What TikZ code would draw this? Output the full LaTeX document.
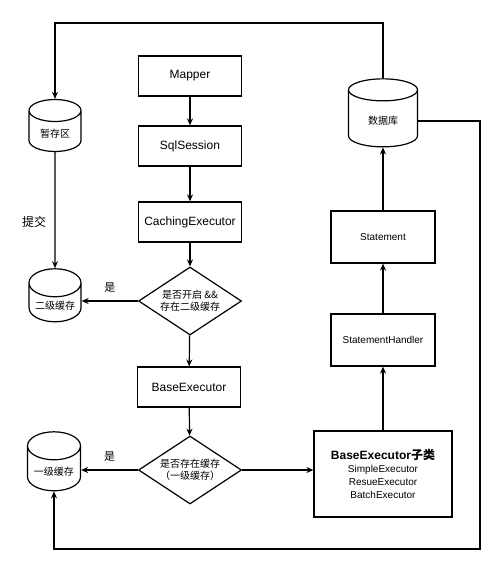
\documentclass[tikz,border=0pt]{standalone}
\usepackage{fontspec}
\setmainfont{Liberation Sans}
\newfontfamily\cjk{Noto Sans CJK SC}
\usetikzlibrary{shapes.geometric,arrows.meta}
\begin{document}
\begin{tikzpicture}[x=1pt,y=-1pt,
    box/.style={draw,line width=1.2pt,minimum width=103pt,minimum height=40pt,font=\fontsize{12}{14}\selectfont},
    smallbox/.style={box,minimum width=104pt,minimum height=52pt,font=\fontsize{10}{12}\selectfont},
    db/.style={draw,line width=1.2pt,cylinder,shape border rotate=90,aspect=0.6,font=\cjk\fontsize{10}{12}\selectfont},
    decide/.style={draw,line width=1.2pt,diamond,aspect=1.5,inner sep=0pt,minimum width=103pt,minimum height=68pt,align=center,font=\cjk\fontsize{10}{12}\selectfont},
    link/.style={line width=1.2pt,-{Stealth[length=7pt,width=6pt]}},
    tag/.style={font=\cjk\fontsize{11}{13}\selectfont}]
    \useasboundingbox (0,0) rectangle (500,563);
    \node[box] (mapper) at (190,76) {Mapper};
    \node[box] (session) at (190,146) {SqlSession};
    \node[box] (caching) at (190,222) {CachingExecutor};
    \node[decide] (checktwo) at (190,301) {是否开启 \&\&\\存在二级缓存};
    \node[box] (base) at (189,387) {BaseExecutor};
    \node[decide] (checkone) at (190,470) {是否存在缓存\\（一级缓存）};
    \node[db,minimum width=52pt,minimum height=52pt] (temp) at (55,134) {暂存区};
    \node[db,minimum width=52pt,minimum height=53pt] (second) at (55,306) {二级缓存};
    \node[db,minimum width=53pt,minimum height=59pt] (first) at (54,472) {一级缓存};
    \node[db,minimum width=69pt,minimum height=68pt] (database) at (383,121) {数据库};
    \node[smallbox] (statement) at (383,237) {Statement};
    \node[smallbox] (handler) at (383,340) {StatementHandler};
    \node[box,minimum width=138pt,minimum height=86pt,align=center,font=\fontsize{10}{13}\selectfont] (subclass) at (383,474)
        {{\fontsize{12}{13}\selectfont\bfseries BaseExecutor{\cjk 子类}}\\SimpleExecutor\\ResueExecutor\\BatchExecutor};
    \coordinate (top) at (0,23);
    \coordinate (corner) at (480,549);
    \draw[link] (mapper) -- (session);
    \draw[link] (session) -- (caching);
    \draw[link] (caching) -- (checktwo);
    \draw[link] (checktwo) -- (base);
    \draw[link] (base) -- (checkone);
    \draw[link] (checktwo.west) -- (checktwo.west -| second.east) node[tag,midway,above=5pt] {是};
    \draw[link] (checkone.west) -- (checkone.west -| first.east) node[tag,midway,above=5pt] {是};
    \draw[link] (checkone.east) -- (checkone.east -| subclass.west);
    \draw[link] (subclass) -- (handler);
    \draw[link] (handler) -- (statement);
    \draw[link] (statement) -- (database);
    \draw[link] (temp) -- (second) node[tag,pos=0.6,left=5pt,font=\cjk\fontsize{12}{14}\selectfont] {提交};
    \draw[link] (database.north) -- (database.north |- top) -- (temp.north |- top) -- (temp.north);
    \draw[link] (database.east) -| (corner) -| (first.south);
\end{tikzpicture}
\end{document}
